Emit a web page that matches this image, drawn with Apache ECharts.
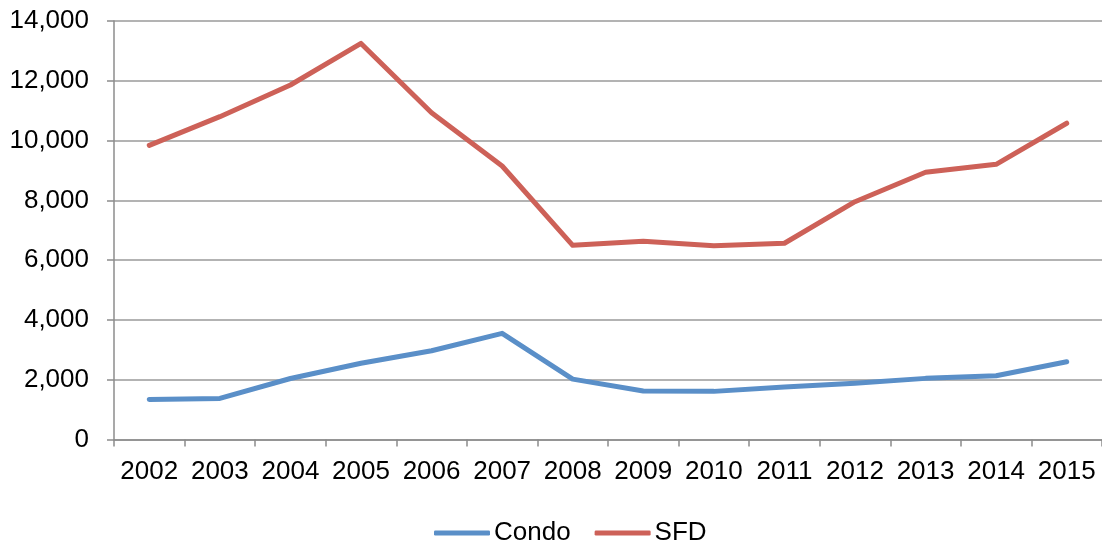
<!DOCTYPE html>
<html>
<head>
<meta charset="utf-8">
<script src="https://cdn.jsdelivr.net/npm/echarts@6/dist/echarts.min.js"></script>
<style>
  html, body { margin: 0; padding: 0; background: #fff; }
  #chart { width: 1102px; height: 546px; }
</style>
</head>
<body>
<div id="chart"></div>
<script>
// Yearly counts by property type
const years = ['2002', '2003', '2004', '2005', '2006', '2007', '2008',
               '2009', '2010', '2011', '2012', '2013', '2014', '2015'];
const condo = [1340, 1375, 2040, 2550, 2970, 3550, 2020, 1620, 1610, 1760, 1880, 2045, 2135, 2600];
const sfd   = [9840, 10800, 11860, 13250, 10930, 9150, 6495, 6630, 6485, 6565, 7955, 8940, 9205, 10580];
const yTicks = { min: 0, max: 14000, interval: 2000 };

const font = '"Liberation Sans", Arial, sans-serif';
const chart = echarts.init(document.getElementById('chart'), null, { renderer: 'canvas' });

chart.setOption({
  animation: false,
  backgroundColor: '#ffffff',
  textStyle: { fontFamily: font },
  grid: { left: 114, right: -6, top: 21, bottom: 106.5, containLabel: false },
  legend: {
    top: 520,
    left: 434,
    padding: 0,
    itemWidth: 56,
    itemHeight: 5,
    itemGap: 24,
    icon: 'roundRect',
    textStyle: { fontFamily: font, fontSize: 26, color: '#000', padding: [0, 0, 0, -1] },
    data: ['Condo', 'SFD']
  },
  xAxis: {
    type: 'category',
    data: years,
    boundaryGap: true,
    axisLine: { lineStyle: { color: '#8c8c8c', width: 1.5 } },
    axisTick: { show: true, interval: 0, length: 7, lineStyle: { color: '#8c8c8c', width: 1.5 } },
    axisLabel: { color: '#000', fontSize: 26, fontFamily: font, margin: 19, interval: 0 },
    splitLine: { show: false }
  },
  yAxis: {
    type: 'value',
    min: yTicks.min,
    max: yTicks.max,
    interval: yTicks.interval,
    axisLine: { show: true, lineStyle: { color: '#8c8c8c', width: 1.5 } },
    axisTick: { show: true, length: 7, lineStyle: { color: '#8c8c8c', width: 1.5 } },
    axisLabel: {
      color: '#000', fontSize: 26, fontFamily: font, margin: 25,
      formatter: v => v.toLocaleString('en-US')
    },
    splitLine: { show: true, lineStyle: { color: '#9a9a9a', width: 1.5 } }
  },
  series: [
    {
      name: 'Condo',
      type: 'line',
      data: condo,
      showSymbol: false,
      symbol: 'none',
      color: '#5a8fc8',
      lineStyle: { width: 5, color: '#5a8fc8', cap: 'round', join: 'round' }
    },
    {
      name: 'SFD',
      type: 'line',
      data: sfd,
      showSymbol: false,
      symbol: 'none',
      color: '#cd6158',
      lineStyle: { width: 5, color: '#cd6158', cap: 'round', join: 'round' }
    }
  ]
});
</script>
</body>
</html>
